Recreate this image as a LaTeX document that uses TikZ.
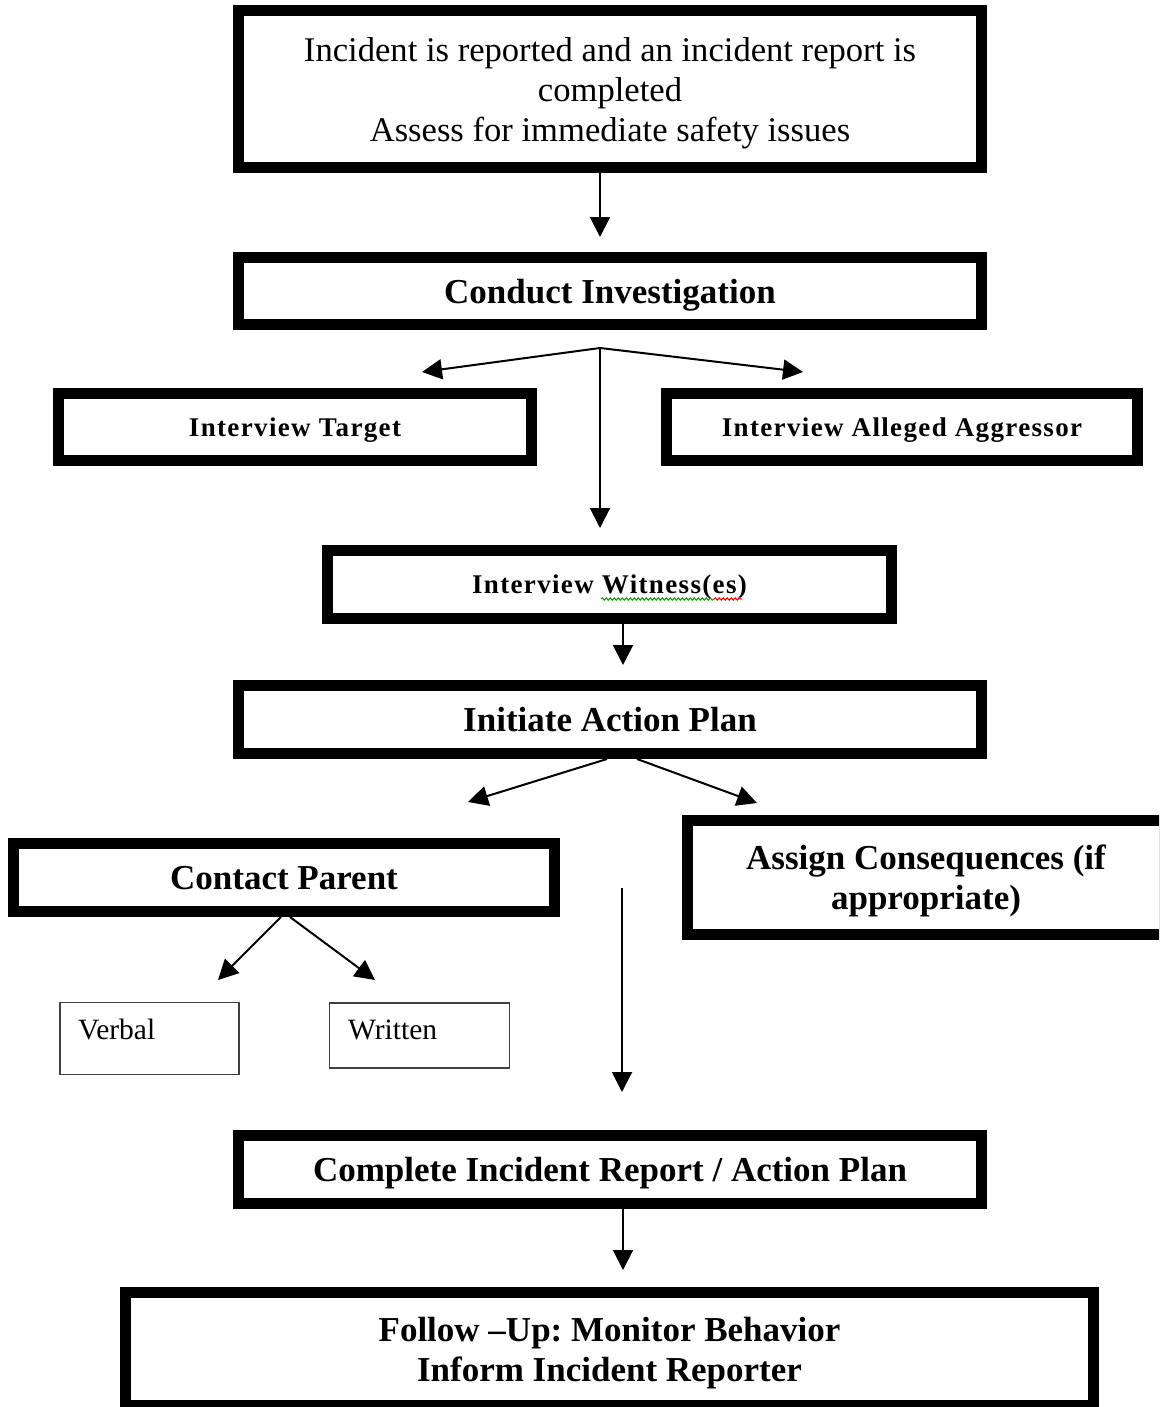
\documentclass[tikz,border=0pt]{standalone}
\usepackage{fontspec}
\setmainfont{Liberation Serif}
\usetikzlibrary{arrows.meta,decorations.pathmorphing}
\frenchspacing
\begin{document}
\begin{tikzpicture}[x=1pt,y=-1pt,
  bigbox/.style={draw, line width=11pt, inner sep=0pt, align=center, text depth=0pt, font=\bfseries\fontsize{35}{40}\selectfont},
  midbox/.style={bigbox, font=\bfseries\fontsize{27}{32}\selectfont\addfontfeature{LetterSpace=5}},
  smallbox/.style={draw=black!75, line width=1.8pt, inner sep=0pt},
  plaintext/.style={inner sep=0pt, font=\fontsize{29.5}{34}\selectfont},
  arr/.style={line width=2pt, -{Triangle[length=20pt,width=20pt]}},
  wave/.style={decorate, decoration={snake, amplitude=1.2pt, segment length=4pt}, line width=1pt},
  ]
\clip (0,0) rectangle (1159,1407);
\fill[white] (0,0) rectangle (1159,1407);

\node[bigbox, font=\fontsize{34.6}{40}\selectfont, minimum width=743, minimum height=157] (report) at (610,89)
  {Incident is reported and an incident report is\\completed\\Assess for immediate safety issues};
\node[bigbox, minimum width=743, minimum height=67] (conduct) at (610,291) {Conduct Investigation};
\node[midbox, minimum width=473, minimum height=67] (target) at (295,427) {Interview Target};
\node[midbox, minimum width=471, minimum height=67] (aggressor) at (902,427) {Interview Alleged Aggressor};
\node[midbox, minimum width=564, minimum height=68] (witness) at (609.5,584.5) {Interview Witness(es)};
\node[bigbox, minimum width=743, minimum height=68] (initiate) at (610,719.5) {Initiate Action Plan};
\node[bigbox, minimum width=541, minimum height=68] (contact) at (284,877.5) {Contact Parent};
\node[bigbox, minimum width=477, minimum height=114] (assign) at (926,877.5) {Assign Consequences (if\\appropriate)};
\node[smallbox, minimum width=179, minimum height=72] (verbal) at (149.5,1038.5) {};
\node[smallbox, minimum width=180, minimum height=65] (written) at (419.5,1035.5) {};
\node[plaintext, anchor=base west] (verbaltext) at (78,1039) {Verbal};
\node[plaintext, anchor=base west] (writtentext) at (348,1039) {Written};
\node[bigbox, minimum width=743, minimum height=68] (complete) at (610,1169.5) {Complete Incident Report / Action Plan};
\node[bigbox, minimum width=968, minimum height=113] (follow) at (609.5,1349) {Follow –Up: Monitor Behavior\\Inform Incident Reporter};

% spell-check underlines
\draw[wave, green!60!black] (601,599) -- (714,599);
\draw[wave, red] (714,599) -- (742,599);

% connectors
\coordinate (c1) at (600,237);
\draw[arr] (report.south -| c1) -- (c1);

\coordinate (j1) at (600,348);
\coordinate (t1) at (422,372);
\coordinate (a1) at (803,372);
\coordinate (w1) at (600,528);
\draw[arr] (j1) -- (t1);
\draw[arr] (j1) -- (a1);
\draw[arr] (j1) -- (w1);

\coordinate (w2) at (623,665);
\draw[arr] (witness.south -| w2) -- (w2);

\coordinate (p1) at (468,802);
\coordinate (p2) at (757,803);
\draw[arr] ([xshift=-3pt]initiate.south) -- (p1);
\draw[arr] ([xshift=27pt]initiate.south) -- (p2);

\coordinate (v1) at (218,980);
\coordinate (v2) at (375,980);
\draw[arr] ([xshift=-3pt]contact.south) -- (v1);
\draw[arr] ([xshift=6pt]contact.south) -- (v2);

\coordinate (l0) at (622,888);
\coordinate (l1) at (622,1092);
\draw[arr] (l0) -- (l1);

\coordinate (f1) at (623,1270);
\draw[arr] (complete.south -| f1) -- (f1);
\end{tikzpicture}
\end{document}
